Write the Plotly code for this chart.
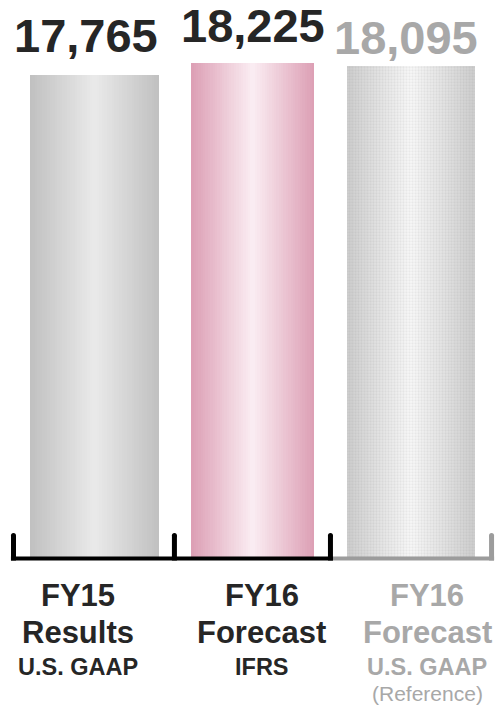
import plotly.graph_objects as go

# ---- data ----
categories = ["FY15 Results", "FY16 Forecast", "FY16 Forecast (Reference)"]
line1 = ["FY15", "FY16", "FY16"]
line2 = ["Results", "Forecast", "Forecast"]
line3 = ["U.S. GAAP", "IFRS", "U.S. GAAP"]
line4 = ["", "", "(Reference)"]
values = [17765, 18225, 18095]

# ---- style ----
FONT = "Liberation Sans, Arial, sans-serif"
DARK = "#262626"
GREY_TXT = "#a8a8a8"
bar_widths = [0.815, 0.777, 0.809]
edge_cols = [(192, 192, 192), (220, 158, 180), (206, 206, 206)]
center_cols = [(234, 234, 234), (251, 238, 243), (249, 249, 249)]
text_cols = [DARK, DARK, GREY_TXT]
value_xshift = [-8.5, 0, -5]
value_yshift = [11, 9, 0]
cat_xshift = [-17, 9, 16]

x = list(range(len(values)))
fig = go.Figure()

N = 26
for k in range(N):
    f = 1 - k / N
    t = 1 - (f - 0.5 / N)
    cols = []
    for e, c in zip(edge_cols, center_cols):
        r, g, b = (round(e[i] + (c[i] - e[i]) * t) for i in range(3))
        cols.append(f"rgb({r},{g},{b})")
    fig.add_trace(go.Bar(
        x=x, y=values, width=[w * f for w in bar_widths],
        marker=dict(color=cols, line=dict(width=0)),
        hoverinfo="skip", showlegend=False,
    ))

# dithered texture on the reference bar
fig.add_trace(go.Bar(
    x=[x[2]], y=[values[2]], width=[bar_widths[2]],
    marker=dict(color="rgba(0,0,0,0)", line=dict(width=0),
                pattern=dict(shape=".", size=3, solidity=0.45,
                             fgcolor="rgba(120,120,120,0.25)",
                             bgcolor="rgba(0,0,0,0)")),
    hoverinfo="skip", showlegend=False,
))

# value labels
for i, v in enumerate(values):
    fig.add_annotation(
        x=x[i], y=v, xref="x", yref="y", text=f"{v:,}", showarrow=False,
        yanchor="bottom", xshift=value_xshift[i], yshift=value_yshift[i],
        font=dict(family=FONT, size=47, color=text_cols[i], weight="bold"),
    )

# category labels (stacked lines)
rows = [
    (line1, 31, "bold", -19),
    (line2, 31, "bold", -56),
    (line3, 23.5, "bold", -95),
    (line4, 21, "normal", -123),
]
for texts, size, weight, ysh in rows:
    for i, t in enumerate(texts):
        if not t:
            continue
        col = GREY_TXT if i == 2 else DARK
        fig.add_annotation(
            x=x[i], y=0, xref="x", yref="y", text=t, showarrow=False,
            yanchor="top", xshift=cat_xshift[i], yshift=ysh,
            font=dict(family=FONT, size=size, color=col, weight=weight),
        )

# bracket-style baseline
tick_x = [-0.512, 0.505, 1.491, 2.509]
tick_col = ["#000000", "#000000", "#000000", "#9c9c9c"]
shapes = [
    dict(type="line", xref="x", yref="y", ysizemode="pixel", yanchor=0,
         x0=-0.528, x1=1.507, y0=-1.5, y1=-1.5,
         line=dict(color="#000000", width=4)),
    dict(type="line", xref="x", yref="y", ysizemode="pixel", yanchor=0,
         x0=1.507, x1=2.525, y0=-1.5, y1=-1.5,
         line=dict(color="#9c9c9c", width=4)),
]
for tx, tc in zip(tick_x, tick_col):
    shapes.append(dict(type="line", xref="x", yref="y", ysizemode="pixel", yanchor=0,
                       x0=tx, x1=tx, y0=-3.5, y1=21.5,
                       line=dict(color=tc, width=5)))
    shapes.append(dict(type="circle", xref="x", yref="y",
                       xsizemode="pixel", xanchor=tx, x0=-2.5, x1=2.5,
                       ysizemode="pixel", yanchor=0, y0=19, y1=24,
                       fillcolor=tc, line=dict(width=0)))

k_px = 0.027123
below_px = 12
fig.update_layout(
    width=496, height=707,
    margin=dict(l=0, r=0, t=0, b=150 - below_px, pad=0),
    paper_bgcolor="white", plot_bgcolor="white",
    barmode="overlay", bargap=0,
    showlegend=False,
    shapes=shapes,
    xaxis=dict(range=[-94.5 / 158.25, (496 - 94.5) / 158.25], visible=False),
    yaxis=dict(range=[-below_px / k_px, 557 / k_px], visible=False),
)

fig.write_html(
    "out.html",
    config={"displayModeBar": False},
    post_script="document.body.style.margin='0';document.body.style.padding='0';",
)
